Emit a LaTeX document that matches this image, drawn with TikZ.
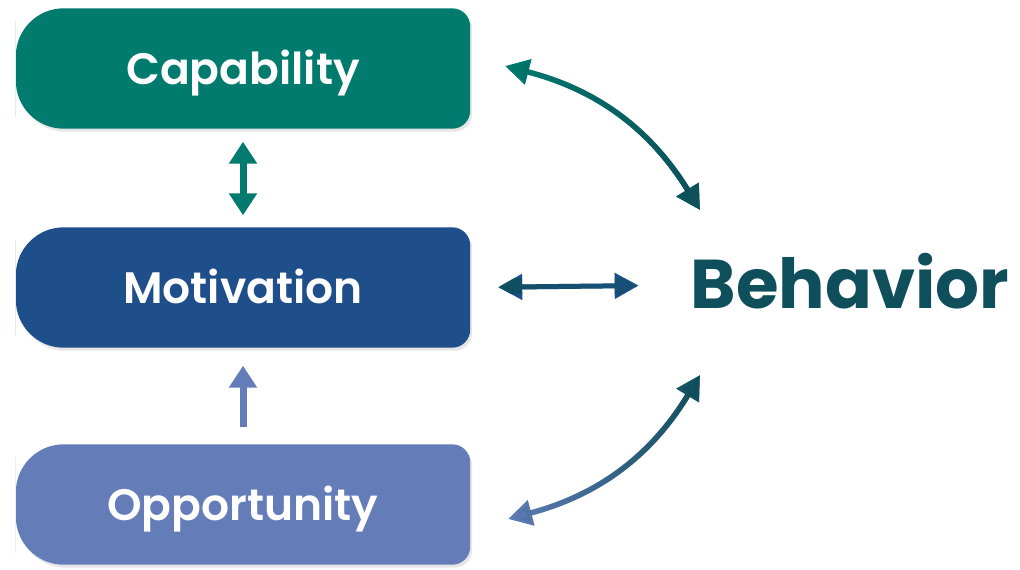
\documentclass[tikz,border=0pt]{standalone}
\usepackage{fontspec}
\IfFontExistsTF{Poppins SemiBold}{\setmainfont{Poppins}[BoldFont={Poppins SemiBold}]}{\setmainfont{Poppins}}
\newfontfamily\behfont{Poppins}
\usetikzlibrary{arrows.meta, backgrounds, shadows, fadings}
\definecolor{capcol}{HTML}{007B6E}
\definecolor{motcol}{HTML}{1F4F8B}
\definecolor{oppcol}{HTML}{647DB9}
\definecolor{behcol}{HTML}{0E4F5B}
\tikzfading[name=lateeast, left color=transparent!100, middle color=transparent!75, right color=transparent!0]
\tikzset{
  box/.style={minimum width=454pt, minimum height=120pt, inner sep=0pt, text=white,
    text height=31pt, text depth=0pt, font=\bfseries\fontsize{44}{48}\selectfont},
  boxfill/.style={drop shadow={shadow xshift=2pt, shadow yshift=-3pt, opacity=.2}},
  link/.style={line width=5.5pt, {Triangle[length=24pt,width=25pt]}-{Triangle[length=24pt,width=25pt]}},
  updown/.style={line width=7pt, {Triangle[length=22pt,width=27pt]}-{Triangle[length=22pt,width=27pt]}},
}

\begin{document}
\begin{tikzpicture}[x=1pt, y=1pt]
\useasboundingbox (0,0) rectangle (1020,-570);
\node[box] (cap) at (243,-68.5) {Capability};
\node[box] (mot) at (243,-287.5) {Motivation};
\node[box] (opp) at (243,-504.5) {Opportunity};
\node[font=\behfont\bfseries\fontsize{69}{72}\selectfont, text=behcol, inner sep=0pt,
  text height=47pt, text depth=0pt] (beh) at (850,-285) {Behavior};
\coordinate (capR) at (505,-66);
\coordinate (behT) at (700,-210);
\coordinate (behB) at (700,-375);
\coordinate (oppR) at (508,-519);
% box shapes, big round on the left
\begin{scope}[on background layer]
\foreach \n/\c in {cap/capcol, mot/motcol, opp/oppcol}
  \fill[\c, boxfill] (\n.north) [rounded corners=48pt] -| (\n.west) |- (\n.south)
    [rounded corners=18pt] -| (\n.east) |- (\n.north);
\end{scope}
% arrows between the boxes
\draw[updown, capcol, shorten <=13pt, shorten >=12pt] (cap.south) -- (mot.north);
\draw[updown, oppcol, {-Triangle[length=22pt,width=27pt]}, shorten <=17pt, shorten >=18pt] (opp.north) -- (mot.south);
% arrows to behavior
\draw[link, motcol, line width=5pt, shorten <=28pt, shorten >=52pt] (mot.east) -- (beh.west);
\draw[link, behcol, line width=5pt, shorten <=28pt, shorten >=52pt, path fading=east] (mot.east) -- (beh.west);
\draw[link, capcol] (capR) to[bend left=22] (behT);
\draw[link, behcol, path fading=lateeast] (capR) to[bend left=22] (behT);
\draw[link, oppcol] (oppR) to[bend right=22] (behB);
\draw[link, behcol, path fading=lateeast] (oppR) to[bend right=22] (behB);
\end{tikzpicture}
\end{document}
